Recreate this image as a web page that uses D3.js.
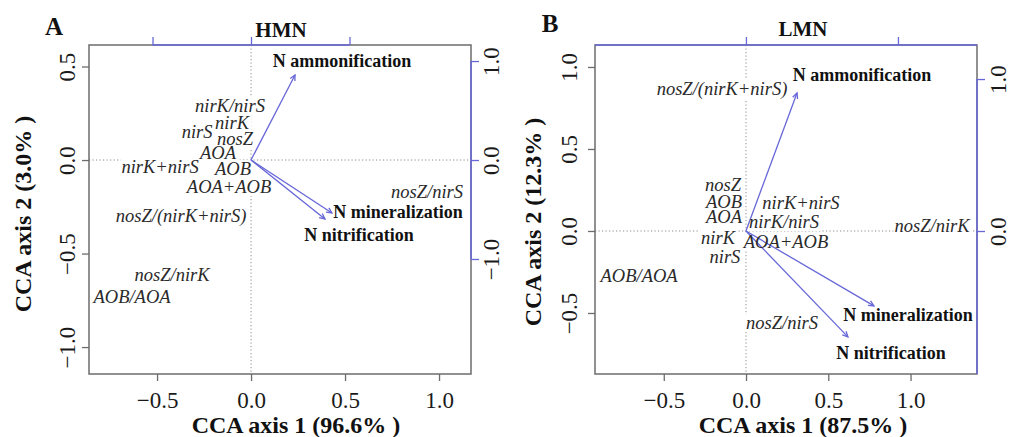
<!DOCTYPE html>
<html><head><meta charset="utf-8">
<script src="https://cdn.jsdelivr.net/npm/d3@7"></script>
<style>body{margin:0;background:#fff}svg{display:block}text{font-family:"Liberation Serif","Times New Roman",serif}</style>
</head><body>
<svg id="chart" width="1011" height="437"></svg>
<script>
// ---------------- data ----------------
const xTicks = [-0.5, 0.0, 0.5, 1.0];
const hmnYTicks = [-1.0, -0.5, 0.0, 0.5];
const lmnYTicks = [-0.5, 0.0, 0.5, 1.0];
const hmnTopTicks = [-1, 0, 1];
const hmnRightTicks = [-1, 0, 1];
const lmnTopTicks = [0, 1];
const lmnRightTicks = [0, 1];

const hmnSpecies = ["nirK/nirS","nirK","nirS","nosZ","AOA","nirK+nirS","AOB","AOA+AOB","nosZ/(nirK+nirS)","nosZ/nirS","nosZ/nirK","AOB/AOA"];
const hmnSpeciesX = [-0.112,-0.101,-0.287,-0.085,-0.176,-0.484,-0.096,-0.117,-0.372,0.936,-0.420,-0.633];
const hmnSpeciesY = [0.289,0.198,0.150,0.112,0.037,-0.037,-0.048,-0.144,-0.299,-0.171,-0.615,-0.733];

const lmnSpecies = ["nosZ","AOB","AOA","nirK","nirS","nirK+nirS","nirK/nirS","AOA+AOB","AOB/AOA","nosZ/(nirK+nirS)","nosZ/nirK","nosZ/nirS"];
const lmnSpeciesX = [-0.140,-0.134,-0.134,-0.170,-0.128,0.334,0.231,0.243,-0.650,-0.146,1.131,0.219];
const lmnSpeciesY = [0.280,0.177,0.085,-0.043,-0.159,0.171,0.055,-0.067,-0.274,0.866,0.030,-0.561];

const envNames = ["N ammonification","N mineralization","N nitrification"];
const hmnEnvX = [0.447, 0.822, 0.751];
const hmnEnvY = [0.859, -0.535, -0.596];
const hmnEnvLabelX = [0.924, 1.492, 1.096];
const hmnEnvLabelY = [1.000, -0.525, -0.758];
const lmnEnvX = [0.336, 0.842, 0.671];
const lmnEnvY = [0.908, -0.493, -0.697];
const lmnEnvLabelX = [0.763, 1.066, 0.954];
const lmnEnvLabelY = [1.026, -0.553, -0.803];

// ---------------- drawing ----------------
const svg = d3.select("#chart");
const BLUE = "#6767d8", BOX = "#6c6c6c", TXT = "#1a1a1a";
const fmt = d3.format(".1f");

const panels = [
  { letter:"A", title:"HMN", xlab:"CCA axis 1 (96.6% )", ylab:"CCA axis 2 (3.0% )",
    left:89, top:45, right:471, bottom:374,
    xDomain:[-0.862,1.170], yDomain:[-1.144,0.615], x2Domain:[-1.645,2.234], y2Domain:[-2.162,1.162],
    yTicks:hmnYTicks, topTicks:hmnTopTicks, rightTicks:hmnRightTicks,
    topLine:[-1,1], rightLine:[-1,1],
    leftLabOff:22, rightLabOff:20, letterPos:[54,26], titlePos:[281,30], xlabPos:[296,425], ylabPos:[23,214],
    sp:hmnSpecies, spX:hmnSpeciesX, spY:hmnSpeciesY,
    envX:hmnEnvX, envY:hmnEnvY, envLX:hmnEnvLabelX, envLY:hmnEnvLabelY },
  { letter:"B", title:"LMN", xlab:"CCA axis 1 (87.5% )", ylab:"CCA axis 2 (12.3% )",
    left:595, top:45, right:977, bottom:374,
    xDomain:[-0.918,1.404], yDomain:[-0.872,1.134], x2Domain:[-0.993,1.520], y2Domain:[-0.941,1.224],
    yTicks:lmnYTicks, topTicks:lmnTopTicks, rightTicks:lmnRightTicks,
    topLine:[-0.993,1.520], rightLine:[-0.941,1],
    leftLabOff:26, rightLabOff:21, letterPos:[550,23], titlePos:[803,29], xlabPos:[803,425], ylabPos:[533,222],
    sp:lmnSpecies, spX:lmnSpeciesX, spY:lmnSpeciesY,
    envX:lmnEnvX, envY:lmnEnvY, envLX:lmnEnvLabelX, envLY:lmnEnvLabelY }
];

panels.forEach(p => {
  const g = svg.append("g");
  const x = d3.scaleLinear().domain(p.xDomain).range([p.left, p.right]);
  const y = d3.scaleLinear().domain(p.yDomain).range([p.bottom, p.top]);
  const x2 = d3.scaleLinear().domain(p.x2Domain).range([p.left, p.right]);
  const y2 = d3.scaleLinear().domain(p.y2Domain).range([p.bottom, p.top]);

  // dotted zero lines
  g.append("line").attr("x1", x(0)).attr("x2", x(0)).attr("y1", p.top).attr("y2", p.bottom)
    .attr("stroke", "#8a8a8a").attr("stroke-width", 1).attr("stroke-dasharray", "1.2,2.3");
  g.append("line").attr("x1", p.left).attr("x2", p.right).attr("y1", y(0)).attr("y2", y(0))
    .attr("stroke", "#8a8a8a").attr("stroke-width", 1).attr("stroke-dasharray", "1.2,2.3");

  // box
  g.append("rect").attr("x", p.left).attr("y", p.top).attr("width", p.right - p.left).attr("height", p.bottom - p.top)
    .attr("fill", "none").attr("stroke", BOX).attr("stroke-width", 1.5);

  // bottom axis
  const ax = g.append("g").attr("transform", `translate(0,${p.bottom})`)
    .call(d3.axisBottom(x).tickValues(xTicks).tickSize(7).tickFormat(fmt));
  ax.select(".domain").remove();
  ax.selectAll("line").attr("stroke", BOX).attr("stroke-width", 1.3);
  ax.selectAll("text").attr("y", 26).attr("dy", "0.33em").attr("fill", TXT)
    .style("font-size", "23px").style("font-family", "Liberation Serif");

  // left axis
  const ay = g.append("g").attr("transform", `translate(${p.left},0)`)
    .call(d3.axisLeft(y).tickValues(p.yTicks).tickSize(7).tickFormat(fmt));
  ay.select(".domain").remove();
  ay.selectAll("line").attr("stroke", BOX).attr("stroke-width", 1.3);
  ay.selectAll("text").attr("x", 0).attr("y", 0).attr("dy", "0.33em")
    .attr("transform", `translate(${-p.leftLabOff},0) rotate(-90)`)
    .attr("text-anchor", "middle").attr("fill", TXT)
    .style("font-size", "23px").style("font-family", "Liberation Serif");

  // top secondary axis (blue)
  const at = g.append("g").attr("transform", `translate(0,${p.top})`)
    .call(d3.axisTop(x2).tickValues(p.topTicks).tickSize(8).tickFormat(""));
  at.select(".domain").remove();
  at.selectAll("line").attr("stroke", BLUE).attr("stroke-width", 1.3);
  g.append("line").attr("x1", x2(p.topLine[0])).attr("x2", x2(p.topLine[1]))
    .attr("y1", p.top).attr("y2", p.top).attr("stroke", BLUE).attr("stroke-width", 1.5);

  // right secondary axis (blue)
  const ar = g.append("g").attr("transform", `translate(${p.right},0)`)
    .call(d3.axisRight(y2).tickValues(p.rightTicks).tickSize(8).tickFormat(fmt));
  ar.select(".domain").remove();
  ar.selectAll("line").attr("stroke", BLUE).attr("stroke-width", 1.3);
  ar.selectAll("text").attr("x", 0).attr("y", 0).attr("dy", "0.33em")
    .attr("transform", `translate(${p.rightLabOff},0) rotate(-90)`)
    .attr("text-anchor", "middle").attr("fill", TXT)
    .style("font-size", "23px").style("font-family", "Liberation Serif");
  g.append("line").attr("x1", p.right).attr("x2", p.right)
    .attr("y1", y2(p.rightLine[0])).attr("y2", y2(p.rightLine[1])).attr("stroke", BLUE).attr("stroke-width", 1.5);

  // label background boxes, arrows, label texts
  const boxG = g.append("g");
  const arrowG = g.append("g");
  const labG = g.append("g");

  const env = envNames.map((n, i) => ({ n, x: p.envX[i], y: p.envY[i], lx: p.envLX[i], ly: p.envLY[i] }));
  env.forEach(d => {
    const x0 = x2(0), y0 = y2(0), x1 = x2(d.x), y1 = y2(d.y);
    arrowG.append("line").attr("x1", x0).attr("y1", y0).attr("x2", x1).attr("y2", y1)
      .attr("stroke", BLUE).attr("stroke-width", 1.3);
    const ang = Math.atan2(y1 - y0, x1 - x0), L = 6, a = 0.45;
    arrowG.append("path")
      .attr("d", `M${x1 - L * Math.cos(ang - a)},${y1 - L * Math.sin(ang - a)}L${x1},${y1}L${x1 - L * Math.cos(ang + a)},${y1 - L * Math.sin(ang + a)}`)
      .attr("fill", "none").attr("stroke", BLUE).attr("stroke-width", 1.3);
  });

  const sp = p.sp.map((n, i) => ({ n, x: p.spX[i], y: p.spY[i] }));
  const spText = labG.selectAll("text.sp").data(sp).join("text").attr("class", "sp")
    .attr("x", d => x(d.x)).attr("y", d => y(d.y)).attr("dy", "0.33em")
    .attr("text-anchor", "middle").attr("fill", "#2a2a2a")
    .style("font-style", "italic").style("font-size", "18.5px")
    .text(d => d.n);
  spText.each(function () {
    const b = this.getBBox();
    boxG.append("rect").attr("x", b.x - 1).attr("y", b.y + 1).attr("width", b.width + 2).attr("height", b.height - 2)
      .attr("fill", "#fff");
  });

  labG.selectAll("text.env").data(env).join("text").attr("class", "env")
    .attr("x", d => x2(d.lx)).attr("y", d => y2(d.ly)).attr("dy", "0.33em")
    .attr("text-anchor", "middle").attr("fill", "#111")
    .style("font-weight", "bold").style("font-size", "18px")
    .text(d => d.n);

  // titles
  g.append("text").attr("x", p.letterPos[0]).attr("y", p.letterPos[1]).attr("dy", "0.35em")
    .attr("text-anchor", "middle").style("font-weight", "bold").style("font-size", "25px").attr("fill", "#111").text(p.letter);
  g.append("text").attr("x", p.titlePos[0]).attr("y", p.titlePos[1]).attr("dy", "0.35em")
    .attr("text-anchor", "middle").style("font-weight", "bold").style("font-size", "21px").attr("fill", "#111").text(p.title);
  g.append("text").attr("x", p.xlabPos[0]).attr("y", p.xlabPos[1]).attr("dy", "0.35em")
    .attr("text-anchor", "middle").style("font-weight", "bold").style("font-size", "24px").attr("fill", "#111").text(p.xlab);
  g.append("text").attr("transform", `translate(${p.ylabPos[0]},${p.ylabPos[1]}) rotate(-90)`).attr("dy", "0.35em")
    .attr("text-anchor", "middle").style("font-weight", "bold").style("font-size", "24px").attr("fill", "#111").text(p.ylab);
});
</script>
</body></html>
